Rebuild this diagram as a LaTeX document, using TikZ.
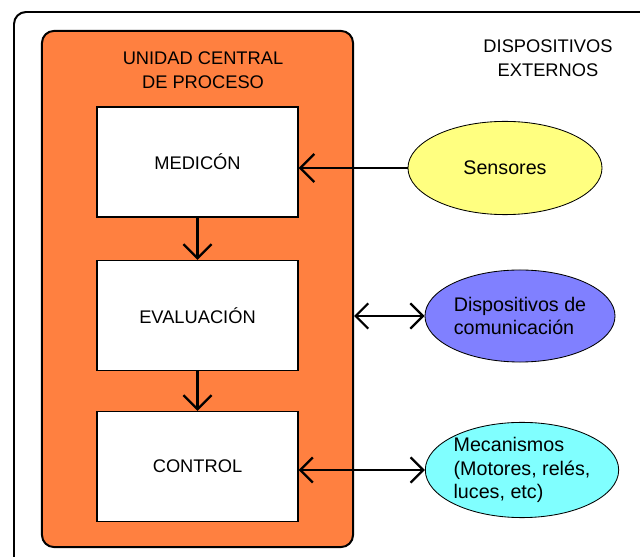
\documentclass[tikz,border=0pt]{standalone}
\usepackage{fontspec}
\setmainfont{Liberation Sans}
\usetikzlibrary{arrows.meta,shapes.geometric}
\definecolor{naranja}{HTML}{FF8040}
\definecolor{amarillo}{HTML}{FFFF80}
\definecolor{violeta}{HTML}{8080FF}
\definecolor{celeste}{HTML}{80FFFF}
\tikzset{
	etapa/.style={draw, line width=0.8pt, fill=white, minimum width=5.025cm, minimum height=2.75cm, inner sep=0pt},
	disp/.style={ellipse, draw, line width=0.6pt, inner sep=0pt, align=left, font=\fontsize{14}{17}\selectfont},
	flecha/.style={line width=1.6pt, -{Straight Barb[length=10pt,width=20pt]}},
	flechas/.style={line width=1.6pt, {Straight Barb[length=9pt,width=18pt]}-{Straight Barb[length=9pt,width=18pt]}},
}

\begin{document}
\begin{tikzpicture}[x=0.025cm, y=-0.025cm, font=\fontsize{13}{17}\selectfont]
			%%%%% START %%%%%
			\useasboundingbox (0,0) rectangle (640,557);
			
			\draw[line width=1.4pt, rounded corners=0.3cm] (14,557) -- (14,12) -- (640,12);
			
			\node[draw, line width=1.4pt, fill=naranja, rounded corners=0.3cm, minimum width=7.775cm, minimum height=12.9cm, inner sep=0pt] (ucp) at (197.5,289) {};
			\node[align=center] (titulo) at (203,70) {UNIDAD CENTRAL\\DE PROCESO};
			\node[align=center] (externos) at (548,58) {DISPOSITIVOS\\EXTERNOS};
			
			\node[etapa] (medicion) at (197.5,162) {MEDICÓN};
			\node[etapa] (evaluacion) at (197.5,315.5) {EVALUACIÓN};
			\node[etapa] (control) at (197.5,466.5) {CONTROL};
			
			\node[disp, fill=amarillo, minimum width=4.85cm, minimum height=2.33cm] (sensores) at (505,168) {Sensores};
			\node[disp, fill=violeta, minimum width=4.75cm, minimum height=2.3cm] (comunicacion) at (520,316) {Dispositivos de\\comunicación};
			\node[disp, fill=celeste, minimum width=4.78cm, minimum height=2.38cm] (mecanismos) at (522,470) {Mecanismos\\(Motores, relés,\\luces, etc)};
			
			\draw[flecha] (medicion) -- (evaluacion);
			\draw[flecha] (evaluacion) -- (control);
			
			\draw[flecha] (sensores.west) -- (sensores.west -| medicion.east);
			\draw[flechas] (ucp.east |- comunicacion.west) -- (comunicacion.west);
			\draw[flechas] (control.east |- mecanismos.west) -- (mecanismos.west);
			%%%%% END %%%%%
\end{tikzpicture}
\end{document}
